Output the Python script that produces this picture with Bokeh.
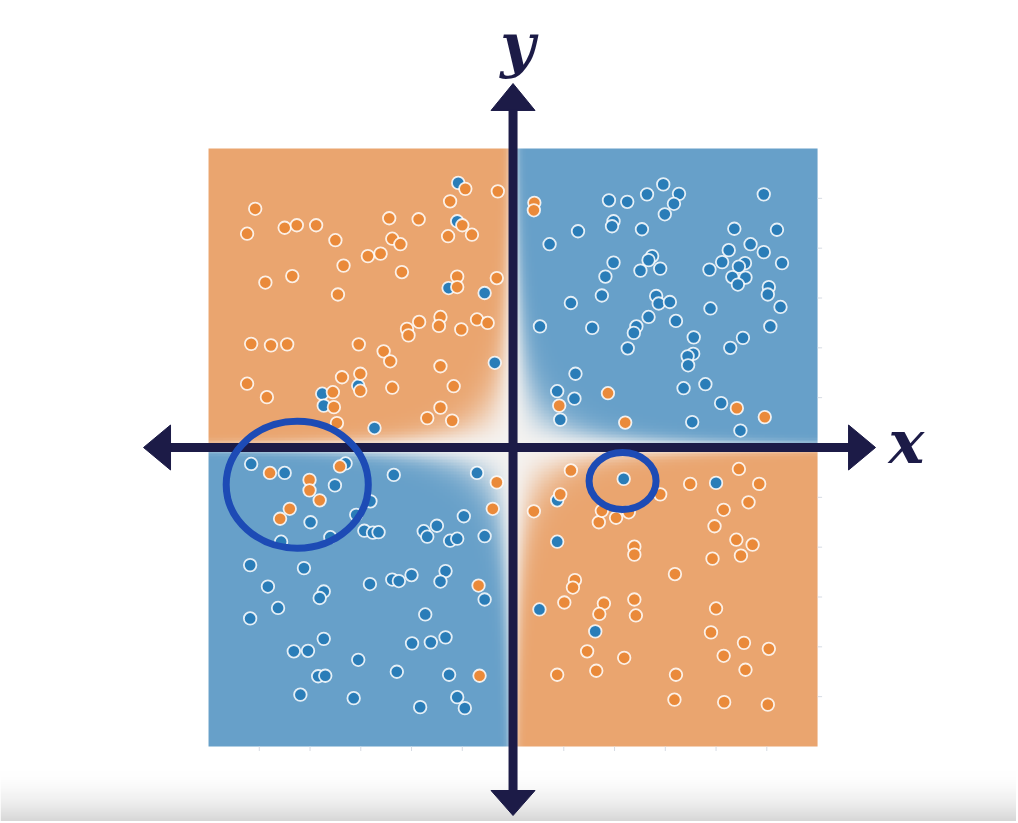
import numpy as np
from bokeh.plotting import figure
from bokeh.models import Range1d
from bokeh.core.properties import value
from bokeh.embed import file_html
from bokeh.resources import INLINE

# ---------------- data ----------------
orange_x = [-5.08, -5.24, -4.50, -4.26, -3.88, -3.50, -2.44, -1.86, -1.24, -0.94, -0.30, -1.00, -1.28, -0.81,
            -2.38, -2.22, -2.61, -2.86, -3.34, -2.19, -4.88, -4.35, -3.45, -1.10, -1.10, -0.32, -5.16, -4.77,
            -4.45, -3.04, -2.55, -2.42, -2.09, -2.06, -1.85, -1.43, -1.46, -1.02, -0.71, -0.50, -1.43, -1.17,
            -1.43, -1.69, -1.20, -2.38, -3.37, -3.01, -3.01, -5.24, -4.85, -3.55, -3.53, -3.47,
            0.42, 0.41, 0.91, 1.87, 2.21, 4.41, 4.96,
            -4.79, -4.01, -4.01, -3.81, -3.41, -4.40, -4.59, -0.32, -0.40, -0.68, -0.66,
            1.14, 2.90, 3.49, 4.45, 4.85, 4.64, 4.15, 3.97, 0.93, 0.41, 1.69, 2.03, 1.75, 2.28, 2.39, 2.39,
            4.40, 4.72, 4.49, 3.93, 3.19, 1.22, 1.18, 1.01, 1.79, 1.70, 2.39, 2.42, 4.00, 3.90, 1.46, 2.19,
            4.55, 5.04, 4.15, 0.87, 1.64, 3.21, 4.58, 3.18, 4.16, 5.02]
orange_y = [4.79, 4.29, 4.41, 4.46, 4.46, 4.16, 4.60, 4.58, 4.94, 5.19, 5.14, 4.46, 4.24, 4.27,
            4.19, 4.08, 3.89, 3.84, 3.65, 3.52, 3.31, 3.44, 3.07, 3.43, 3.22, 3.40, 2.08, 2.05,
            2.07, 2.07, 1.93, 1.73, 2.38, 2.25, 2.52, 2.62, 2.44, 2.37, 2.57, 2.50, 1.63, 1.23,
            0.80, 0.59, 0.54, 1.20, 1.41, 1.48, 1.14, 1.28, 1.01, 1.11, 0.81, 0.49,
            4.91, 4.76, 0.84, 1.09, 0.50, 0.79, 0.61,
            -0.51, -0.65, -0.86, -1.06, -0.38, -1.23, -1.43, -0.70, -1.23, -2.77, -4.58,
            -0.46, -0.94, -0.73, -0.43, -0.73, -1.10, -1.25, -1.58, -0.94, -1.28, -1.50, -1.41, -1.27, -1.30, -1.99, -2.15,
            -1.85, -1.95, -2.17, -2.23, -2.54, -2.66, -2.81, -3.11, -3.13, -3.34, -3.05, -3.37, -3.23, -3.71, -4.09, -4.22,
            -3.92, -4.04, -4.18, -4.56, -4.48, -4.56, -4.46, -5.06, -5.11, -5.16]

blue_x = [-1.08, -1.10, -1.27, -0.56, -0.36, -3.05, -3.76, -3.73, -2.73,
          1.89, 2.25, 2.64, 2.96, 3.27, 3.17, 2.99, 4.94, 1.98, 1.95, 2.54, 1.28, 0.72, 4.36, 5.20, 4.25,
          4.68, 4.94, 4.12, 4.57, 4.45, 5.30, 3.87, 4.32, 4.58, 4.43, 1.98, 1.82, 2.74, 2.67, 2.51, 2.90,
          5.04, 5.02, 5.27, 1.75, 1.14, 2.82, 2.87, 3.09, 3.89, 2.67, 2.43, 2.38, 3.21, 5.07, 0.53, 1.56,
          2.26, 3.56, 3.55, 3.44, 3.45, 4.53, 4.28, 1.23, 0.87, 1.21, 0.93, 3.36, 3.79, 4.10, 3.53, 4.48,
          -5.16, -4.50, -3.51, -3.30, -3.99, -2.81, -3.09, -4.57, -3.60, -2.93, -2.76, -2.65, -2.35, -0.71,
          -0.97, -1.50, -1.76, -1.69, -1.24, -1.10, -0.56, -5.18, -4.12, -4.83, -3.73, -3.81, -4.63, -5.18,
          -2.82, -2.38, -2.25, -2.00, -1.33, -1.43, -0.56, -1.73, -3.73, -4.32, -4.04, -3.05, -1.99, -1.62,
          -1.33, -3.84, -3.70, -2.29, -1.26, -4.19, -3.14, -1.83, -1.10, -0.95,
          2.18, 4.00, 0.87, 0.87, 0.52, 1.62]
blue_y = [5.31, 4.54, 3.20, 3.10, 1.70, 1.24, 1.08, 0.84, 0.39,
          4.96, 4.93, 5.08, 5.28, 5.09, 4.89, 4.68, 5.08, 4.54, 4.44, 4.38, 4.34, 4.08, 4.39, 4.37, 3.96,
          4.08, 3.92, 3.72, 3.70, 3.63, 3.70, 3.57, 3.42, 3.41, 3.27, 3.71, 3.43, 3.84, 3.76, 3.55, 3.59,
          3.22, 3.07, 2.82, 3.05, 2.90, 3.04, 2.89, 2.92, 2.79, 2.62, 2.43, 2.30, 2.54, 2.43, 2.43, 2.40,
          1.99, 2.21, 1.88, 1.83, 1.65, 2.20, 2.00, 1.48, 1.13, 0.98, 0.56, 1.19, 1.27, 0.89, 0.51, 0.34,
          -0.33, -0.51, -0.76, -0.32, -1.50, -1.08, -1.35, -1.89, -1.80, -1.67, -1.71, -1.70, -0.55, -0.51,
          -1.38, -1.57, -1.68, -1.79, -1.87, -1.83, -1.78, -2.36, -2.42, -2.79, -2.89, -3.02, -3.22, -3.43,
          -2.74, -2.65, -2.68, -2.56, -2.48, -2.69, -3.05, -3.35, -3.84, -4.09, -4.08, -4.26, -3.93, -3.91,
          -3.81, -4.59, -4.58, -4.50, -4.56, -4.96, -5.03, -5.21, -5.01, -5.23,
          -0.63, -0.71, -1.06, -1.89, -3.25, -3.69]

axis_labels = ["x", "y"]
tick_values = [-5, -4, -3, -2, -1, 0, 1, 2, 3, 4, 5]

# ---------------- styles ----------------
NAVY = "#1c1b47"
ORANGE_PT = "#ea8a3a"
BLUE_PT = "#2a7db8"
ORANGE_BG = np.array([234, 165, 111])
BLUE_BG = np.array([103, 160, 201])
WHITE_BG = np.array([245, 243, 241])
RING = "#1d4bb5"
SHARP = 0.55
N = 400
LABEL_FONT = value("DejaVu Serif")

X0, X1 = -10.099, 9.920
Y0, Y1 = -7.505, 8.970

p = figure(width=1016, height=821, x_range=Range1d(X0, X1), y_range=Range1d(Y0, Y1),
           x_axis_type=None, y_axis_type=None, toolbar_location=None, output_backend="svg",
           min_border=0, outline_line_color=None, background_fill_color="white",
           border_fill_color="white")
p.grid.visible = False

# soft grey shading at the bottom of the frame
FADE_TOP = -6.48
fh = 50
fade = np.empty((fh, 1), dtype=np.uint32)
fv = fade.view(dtype=np.uint8).reshape((fh, 1, 4))
shade = (255 - 40 * (np.linspace(1, 0, fh) ** 1.8)).astype(np.uint8)
fv[:, 0, 0] = shade
fv[:, 0, 1] = shade
fv[:, 0, 2] = shade
fv[:, 0, 3] = 255
p.image_rgba(image=[fade], x=X0, y=Y0, dw=X1 - X0, dh=FADE_TOP - Y0)

# decision surface background
g = np.linspace(-6, 6, N)
GX, GY = np.meshgrid(g, g)
v = np.tanh(GX * GY / SHARP)
m = (np.abs(v) ** 1.5)[..., None]
col = np.where((v > 0)[..., None], BLUE_BG, ORANGE_BG)
rgb = WHITE_BG * (1 - m) + col * m
img = np.empty((N, N), dtype=np.uint32)
view = img.view(dtype=np.uint8).reshape((N, N, 4))
view[..., :3] = rgb.astype(np.uint8)
view[..., 3] = 255
p.image_rgba(image=[img], x=-6, y=-6, dw=12, dh=12)

# faint ticks along the bottom and right edges of the surface
p.segment(x0=tick_values, y0=[-6] * len(tick_values), x1=tick_values, y1=[-6.09] * len(tick_values),
          line_color="#d6dbe3", line_width=1)
p.segment(x0=[6] * len(tick_values), y0=tick_values, x1=[6.09] * len(tick_values), y1=tick_values,
          line_color="#d6dbe3", line_width=1)

# points
p.scatter(blue_x, blue_y, size=12.5, fill_color=BLUE_PT, line_color="white", line_alpha=0.85, line_width=1.8)
p.scatter(orange_x, orange_y, size=12.5, fill_color=ORANGE_PT, line_color="white", line_alpha=0.85, line_width=1.8)

# axes arrows
p.segment(x0=[-6.76, 0], y0=[0, -6.89], x1=[6.62, 0], y1=[0, 6.77], line_width=9, line_color=NAVY)
p.patches(xs=[[-7.281, -6.749, -6.749], [7.143, 6.611, 6.611], [0, -0.4335, 0.4335], [0, -0.4335, 0.4335]],
          ys=[[0, 0.4515, -0.4515], [0, 0.4515, -0.4515], [7.304, 6.763, 6.763], [-7.385, -6.883, -6.883]],
          fill_color=NAVY, line_color=NAVY, line_width=1)

p.text(x=[7.40], y=[0.12], text=[axis_labels[0]], text_align="left", text_baseline="alphabetic",
       text_font=LABEL_FONT, text_font_style="bold italic", text_font_size="60px",
       text_color=NAVY)
p.text(x=[0.09], y=[8.07], text=[axis_labels[1]], text_align="center", text_baseline="alphabetic",
       text_font=LABEL_FONT, text_font_style="bold italic", text_font_size="60px",
       text_color=NAVY)

# highlight rings
p.ellipse(x=[-4.252, 2.158], y=[-0.746, -0.672], width=[2.80, 1.32], height=[2.55, 1.14],
          fill_color=None, line_color=RING, line_width=7)

open("out.html", "w").write(file_html(p, INLINE))
